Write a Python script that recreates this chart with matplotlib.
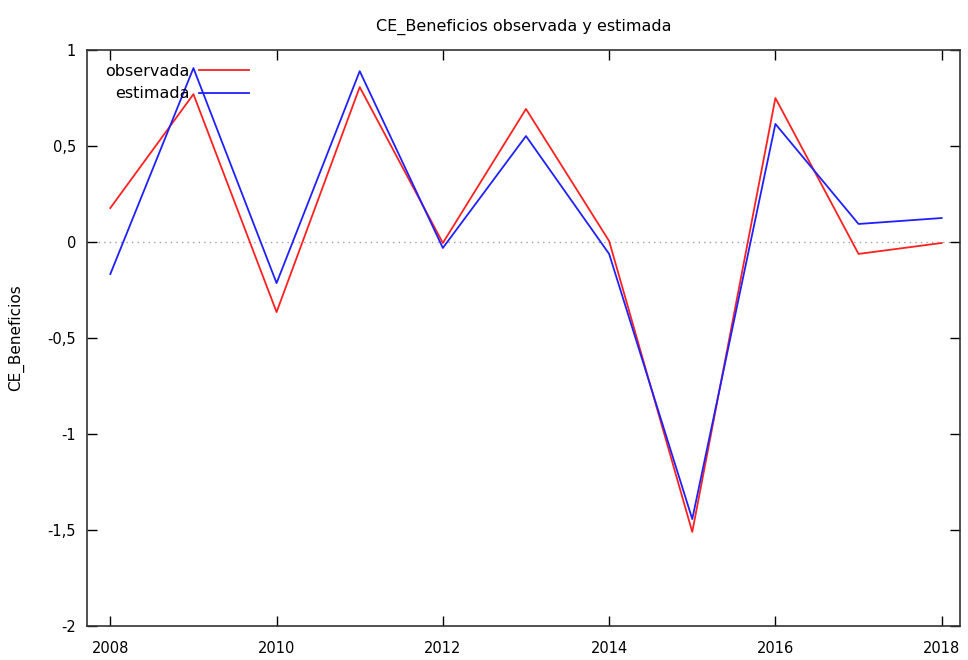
import matplotlib
matplotlib.use("Agg")
import matplotlib.pyplot as plt
from matplotlib.ticker import FuncFormatter

years = [2008, 2009, 2010, 2011, 2012, 2013, 2014, 2015, 2016, 2017, 2018]
observada = [0.177, 0.77, -0.365, 0.807, -0.005, 0.693, 0.005, -1.51, 0.75, -0.062, -0.005]
estimada = [-0.167, 0.906, -0.214, 0.89, -0.031, 0.552, -0.062, -1.443, 0.615, 0.094, 0.125]
xticks = [2008, 2010, 2012, 2014, 2016, 2018]
yticks = [-2, -1.5, -1, -0.5, 0, 0.5, 1]

plt.rcParams["font.family"] = ["DejaVu Sans"]

fig = plt.figure(figsize=(9.68, 6.6), dpi=100)
ax = fig.add_axes([0.0899, 0.0515, 0.9018, 0.8727])

# linea de referencia en cero
ax.axhline(0, color="#a0a0a0", lw=1, ls=(0, (1, 3)), zorder=1)
ax.plot(years, observada, color="#ff2020", lw=1.3, label="observada", zorder=3)
ax.plot(years, estimada, color="#2020ff", lw=1.3, label="estimada", zorder=3)

ax.set_xlim(2007.72, 2018.22)
ax.set_ylim(-2, 1)
ax.set_xticks(xticks)
ax.set_yticks(yticks)


def coma(v, pos):
    s = f"{v:g}"
    return s.replace(".", ",")


ax.yaxis.set_major_formatter(FuncFormatter(coma))
ax.tick_params(direction="in", length=7, width=1, top=True, right=True,
               labelsize=10.5, pad=8)
ax.tick_params(axis="x", pad=11)
for sp in ax.spines.values():
    sp.set_linewidth(1.2)
    sp.set_color("#333333")

ax.set_ylabel("CE_Beneficios", fontsize=11)
ax.yaxis.set_label_coords(-0.072, 0.5)
ax.set_title("CE_Beneficios observada y estimada", fontsize=11.5, pad=14)

leg = ax.legend(loc="upper left", bbox_to_anchor=(0.008, 0.995), frameon=False,
                markerfirst=False, fontsize=11.5, handlelength=3.1,
                handletextpad=0.6, labelspacing=0.45, borderaxespad=0.3)
for t in leg.get_texts():
    t.set_ha("right")

fig.savefig("out.png", dpi=100)
